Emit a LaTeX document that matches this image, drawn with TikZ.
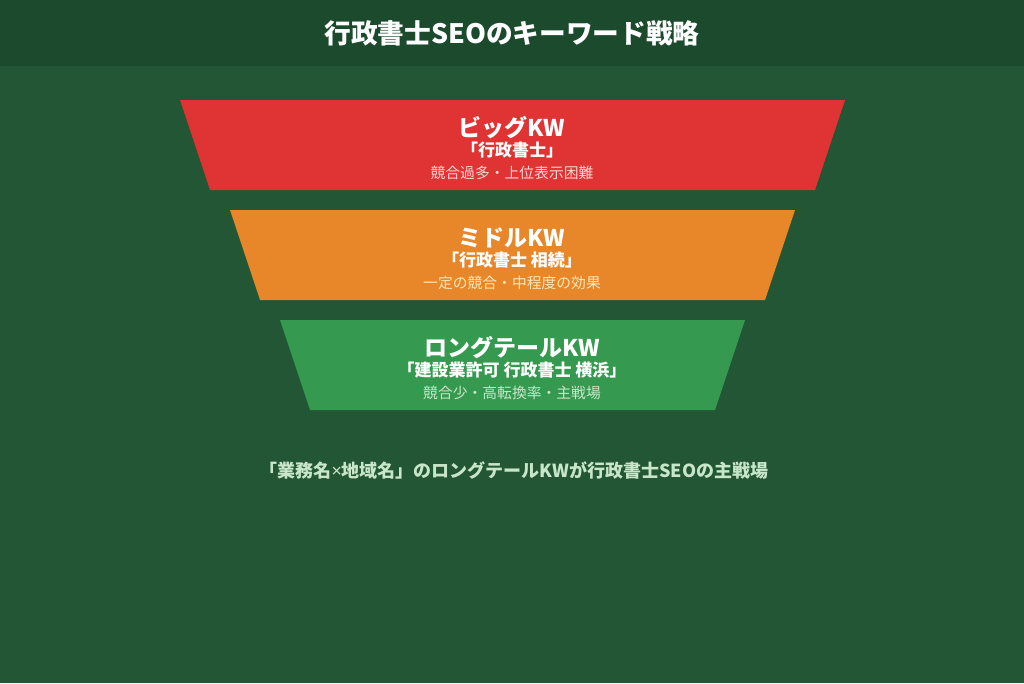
\documentclass[tikz,border=0pt]{standalone}
\usepackage{fontspec}
\setmainfont{Noto Sans CJK JP}
\newfontfamily\latinx{Noto Sans}
\definecolor{bgc}{HTML}{235634}
\definecolor{hdr}{HTML}{1B4A2C}
\definecolor{redc}{HTML}{E03333}
\definecolor{orac}{HTML}{E8862A}
\definecolor{grnc}{HTML}{35994F}
\definecolor{redt}{HTML}{FFD5D5}
\definecolor{orat}{HTML}{FFE8B8}
\definecolor{grnt}{HTML}{C8E6C9}
\definecolor{foot}{HTML}{C8E6C9}
\tikzset{
  kwtitle/.style={text=white,font=\bfseries\fontsize{23}{27}\selectfont,inner sep=0pt,anchor=center},
  kwsub/.style={text=white,font=\bfseries\fontsize{17}{20}\selectfont,inner sep=0pt,anchor=center},
  kwdesc/.style={font=\fontsize{14.8}{17}\selectfont,inner sep=0pt,anchor=center},
}
\begin{document}
\begin{tikzpicture}[x=1pt,y=-1pt]
\useasboundingbox (0,0) rectangle (1024,683);
\fill[bgc] (0,0) rectangle (1024,683);
\fill[hdr] (0,0) rectangle (1024,66);
\node[text=white,font=\bfseries\fontsize{26.7}{30}\selectfont,inner sep=0pt] (title) at (512,33) {行政書士SEOのキーワード戦略};
% big
\fill[redc] (180,100) -- (845,100) -- (815,190) -- (210,190) -- cycle;
\node[kwtitle] (bigt) at (512,128) {ビッグKW};
\node[kwsub] (bigs) at (512,150) {「行政書士」};
\node[kwdesc,text=redt] (bigd) at (512,173) {競合過多・上位表示困難};
% middle
\fill[orac] (230,210) -- (795,210) -- (765,300) -- (260,300) -- cycle;
\node[kwtitle] (midt) at (512,238) {ミドルKW};
\node[kwsub] (mids) at (512,260) {「行政書士 相続」};
\node[kwdesc,text=orat] (midd) at (512,283) {一定の競合・中程度の効果};
% long tail
\fill[grnc] (280,320) -- (745,320) -- (715,410) -- (310,410) -- cycle;
\node[kwtitle] (lont) at (512,348) {ロングテールKW};
\node[kwsub] (lons) at (512,370) {「建設業許可 行政書士 横浜」};
\node[kwdesc,text=grnt] (lond) at (512,393) {競合少・高転換率・主戦場};
% footer
\node[text=foot,font=\bfseries\fontsize{18}{21}\selectfont,inner sep=0pt] (footer) at (514,470) {「業務名{\latinx\bfseries ×}地域名」のロングテールKWが行政書士SEOの主戦場};
\end{tikzpicture}
\end{document}
